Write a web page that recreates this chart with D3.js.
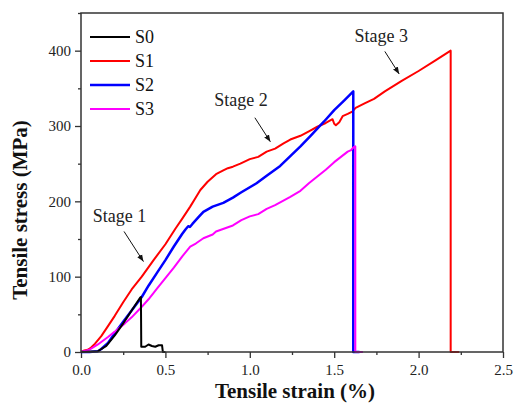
<!DOCTYPE html>
<html>
<head>
<meta charset="utf-8">
<script src="https://cdn.jsdelivr.net/npm/d3@7"></script>
<style>
  body { margin: 0; background: #fff; }
  svg { display: block; font-family: "Liberation Serif", "Times New Roman", serif; }
  .frame { fill: none; stroke: #333; stroke-width: 1.5; }
  .axis path { display: none; }
  .axis line { stroke: #333; stroke-width: 1.3; }
  .axis text { font-size: 15px; fill: #222; font-family: "Liberation Serif", serif; }
  .curve { fill: none; stroke-linejoin: round; }
  .note { font-size: 18px; fill: #222; }
  .title { font-size: 21px; font-weight: bold; fill: #111; }
</style>
</head>
<body>
<svg id="chart" width="514" height="410"></svg>
<script>
// series names and colours
var seriesNames = ['S0', 'S1', 'S2', 'S3'];
var seriesColors = ['#000000', '#ff0000', '#0000ff', '#ff00ff'];
var seriesWidths = [2, 2, 2.5, 2];

// [strain %, stress MPa]
var s0Data = [[0,0],[0.1,1],[0.15,8],[0.2,22],[0.25,38],[0.3,55],[0.35,72],[0.355,73],[0.357,7],[0.38,7],
  [0.4,10],[0.42,8],[0.44,7],[0.46,9],[0.48,9],[0.485,0],[0.5,0]];
var s1Data = [[0,0],[0.02,2],[0.04,3],[0.06,6],[0.083,11],[0.12,21],[0.15,31],[0.2,48],[0.25,66],[0.3,83],
  [0.36,100],[0.43,122],[0.5,143],[0.56,164],[0.6,177],[0.647,193],[0.68,205],[0.707,215],[0.75,226],
  [0.8,236],[0.843,241],[0.87,244],[0.9,246],[0.944,250],[1.0,256],[1.05,259],[1.1,266],[1.15,270],
  [1.2,277],[1.24,282],[1.3,287],[1.35,293],[1.4,299],[1.45,304],[1.49,309],[1.5,303],[1.51,301],
  [1.53,305],[1.55,313],[1.58,316],[1.607,319],[1.627,324],[1.68,330],[1.736,336],[1.8,346],
  [1.9,360],[2.0,373],[2.1,387],[2.19,400],[2.19,0],[2.24,0]];
var s2Data = [[0,0],[0.05,0],[0.1,1],[0.12,4],[0.16,12],[0.2,25],[0.25,40],[0.3,55],[0.36,73],[0.4,88],
  [0.45,105],[0.5,122],[0.55,140],[0.6,157],[0.62,163],[0.635,167],[0.645,166],[0.66,170],[0.7,180],
  [0.725,186],[0.78,193],[0.843,198],[0.9,205],[0.95,212],[1.04,224],[1.1,234],[1.18,247],[1.24,260],
  [1.3,273],[1.36,287],[1.44,306],[1.5,321],[1.56,334],[1.613,346],[1.613,0],[1.65,0]];
var s3Data = [[0,0],[0.05,3],[0.1,10],[0.16,20],[0.2,27],[0.26,38],[0.3,46],[0.36,60],[0.4,70],[0.45,84],
  [0.5,98],[0.55,112],[0.6,127],[0.647,140],[0.68,144],[0.725,151],[0.78,156],[0.8,160],[0.825,162],
  [0.9,168],[0.95,175],[1.0,180],[1.05,183],[1.1,190],[1.15,195],[1.24,206],[1.3,214],[1.35,224],
  [1.4,233],[1.45,242],[1.5,252],[1.58,266],[1.6,268],[1.615,272],[1.625,273],[1.625,0],[1.67,0]];

var xTicks = [0, 0.5, 1.0, 1.5, 2.0, 2.5];
var yTicks = [0, 100, 200, 300, 400];

// annotation labels: text, text anchor point, arrow start, arrow end (in data units)
var stageLabels = ['Stage 1', 'Stage 2', 'Stage 3'];
var stageText = [[0.07, 172], [0.79, 327], [1.62, 412]];
var stageArrowFrom = [[0.255, 160], [1.03, 311], [1.8, 399]];
var stageArrowTo = [[0.37, 120], [1.122, 279], [1.885, 369]];

var svg = d3.select('#chart');
var margin = {top: 13, right: 11, bottom: 58, left: 81};
var width = 514 - margin.left - margin.right;
var height = 410 - margin.top - margin.bottom;

var x = d3.scaleLinear().domain([0, 2.5]).range([margin.left, margin.left + width]);
var y = d3.scaleLinear().domain([0, 450]).range([margin.top + height, margin.top]);

var defs = svg.append('defs');
defs.append('marker')
    .attr('id', 'arrowhead')
    .attr('viewBox', '0 0 10 10')
    .attr('refX', 10).attr('refY', 5)
    .attr('markerWidth', 7).attr('markerHeight', 7)
    .attr('markerUnits', 'userSpaceOnUse')
    .attr('orient', 'auto')
  .append('path')
    .attr('d', 'M0,1 L10,5 L0,9 Z')
    .attr('fill', '#111');

// axes: major ticks outward, minor ticks shorter
svg.append('g').attr('class', 'axis')
    .attr('transform', 'translate(0,' + (margin.top + height) + ')')
    .call(d3.axisBottom(x).tickValues(d3.range(0.25, 2.5, 0.5)).tickSize(3).tickFormat(''));
svg.append('g').attr('class', 'axis')
    .attr('transform', 'translate(0,' + (margin.top + height) + ')')
    .call(d3.axisBottom(x).tickValues(xTicks).tickSize(6).tickPadding(6).tickFormat(d3.format('.1f')));
svg.append('g').attr('class', 'axis')
    .attr('transform', 'translate(' + margin.left + ',0)')
    .call(d3.axisLeft(y).tickValues(d3.range(50, 451, 100)).tickSize(3).tickFormat(''));
svg.append('g').attr('class', 'axis')
    .attr('transform', 'translate(' + margin.left + ',0)')
    .call(d3.axisLeft(y).tickValues(yTicks).tickSize(6).tickPadding(4));

// curves
var line = d3.line().x(function(d) { return x(d[0]); }).y(function(d) { return y(d[1]); });
var allData = [s0Data, s1Data, s2Data, s3Data];
[1, 2, 3, 0].forEach(function(i) {
  svg.append('path')
      .attr('class', 'curve')
      .attr('d', line(allData[i]))
      .attr('stroke', seriesColors[i])
      .attr('stroke-width', seriesWidths[i]);
});

// frame
svg.append('rect')
    .attr('class', 'frame')
    .attr('x', margin.left).attr('y', margin.top)
    .attr('width', width).attr('height', height);

// legend
var legend = svg.append('g').attr('transform', 'translate(90,37)');
var item = legend.selectAll('g').data(seriesNames).enter().append('g')
    .attr('transform', function(d, i) { return 'translate(0,' + (i * 24) + ')'; });
item.append('line')
    .attr('x1', 0).attr('x2', 40)
    .attr('stroke', function(d, i) { return seriesColors[i]; })
    .attr('stroke-width', function(d, i) { return seriesWidths[i]; });
item.append('text')
    .attr('x', 45).attr('dy', '0.34em')
    .style('font-size', '18px')
    .attr('fill', '#111')
    .text(function(d) { return d; });

// stage annotations
stageLabels.forEach(function(t, i) {
  svg.append('text')
      .attr('class', 'note')
      .attr('x', x(stageText[i][0]))
      .attr('y', y(stageText[i][1]))
      .text(t);
  svg.append('line')
      .attr('x1', x(stageArrowFrom[i][0])).attr('y1', y(stageArrowFrom[i][1]))
      .attr('x2', x(stageArrowTo[i][0])).attr('y2', y(stageArrowTo[i][1]))
      .attr('stroke', '#111').attr('stroke-width', 1)
      .attr('marker-end', 'url(#arrowhead)');
});

// axis titles
svg.append('text')
    .attr('class', 'title')
    .attr('x', margin.left + width / 2 + 3)
    .attr('y', 398)
    .attr('text-anchor', 'middle')
    .text('Tensile strain (%)');
svg.append('text')
    .attr('class', 'title')
    .attr('transform', 'translate(27,' + 210 + ') rotate(-90)')
    .attr('text-anchor', 'middle')
    .text('Tensile stress (MPa)');
</script>
</body>
</html>
